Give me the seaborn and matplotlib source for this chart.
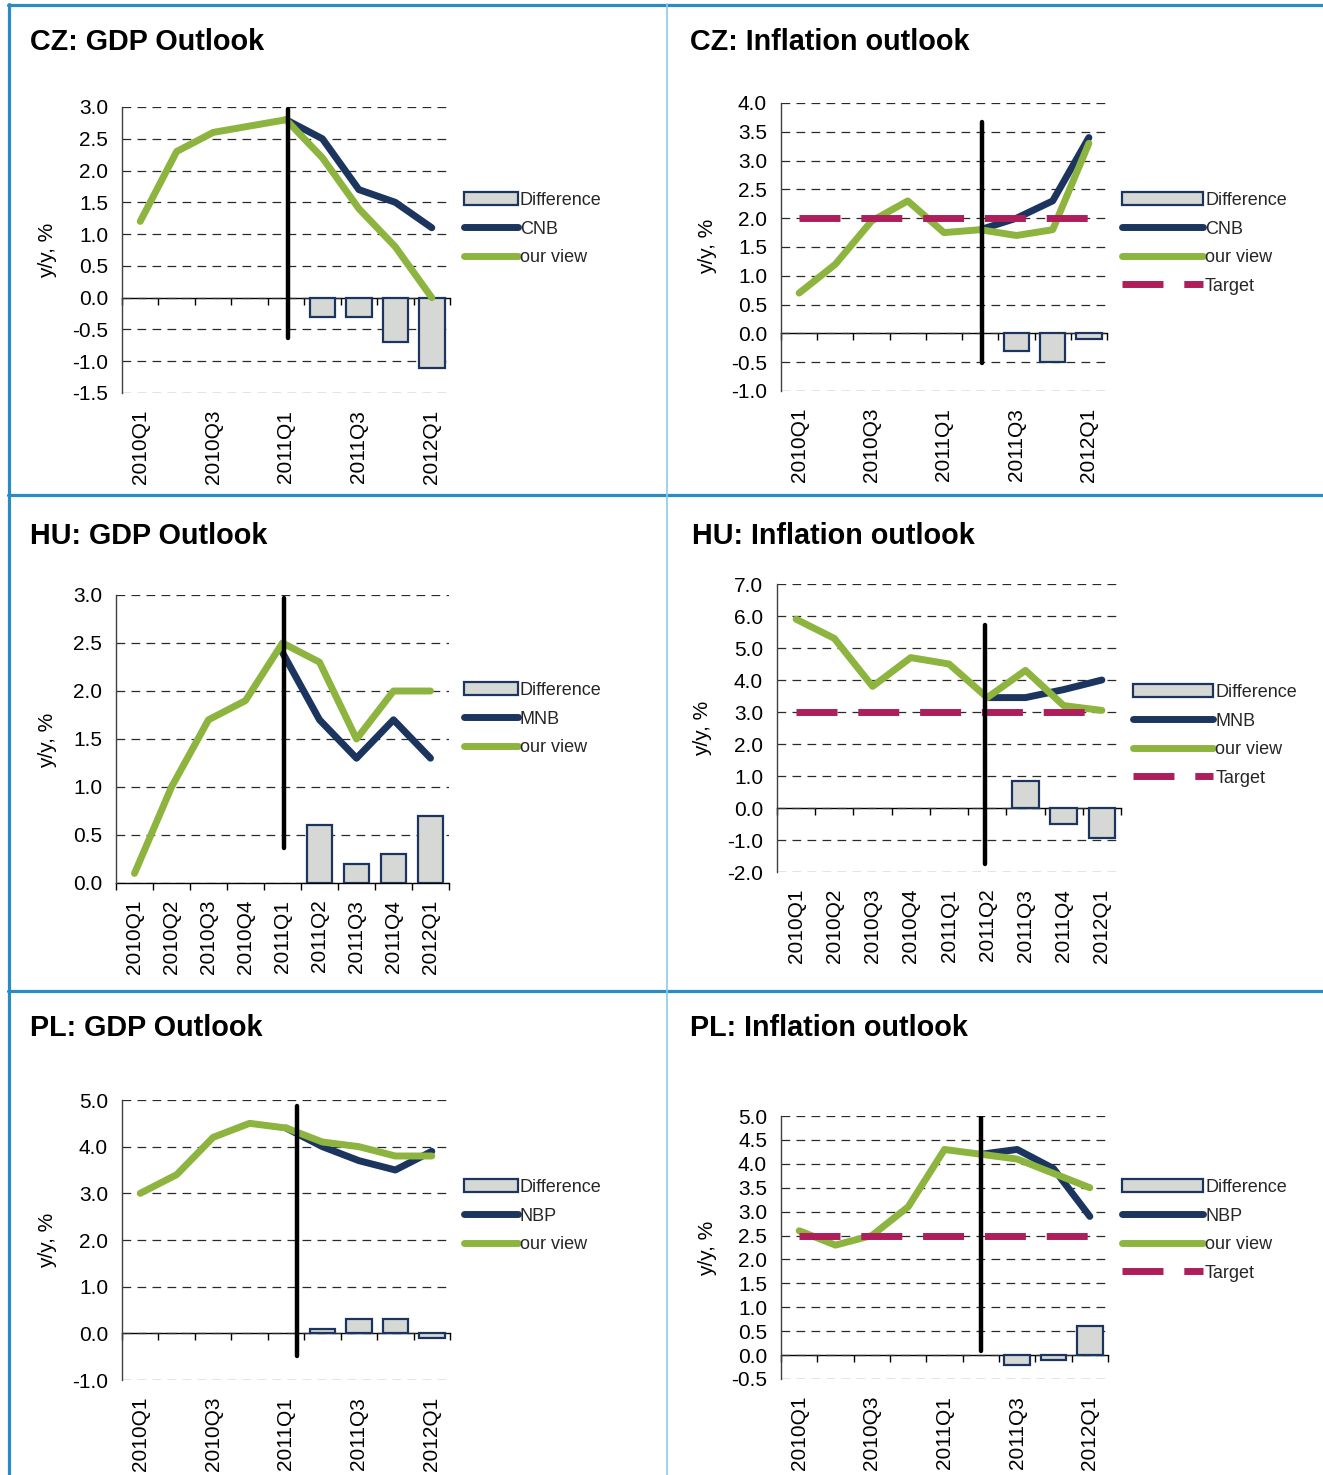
import numpy as np
import matplotlib
matplotlib.use("Agg")
import matplotlib.pyplot as plt
from matplotlib.lines import Line2D
from matplotlib.patches import Patch
from matplotlib.ticker import FormatStrFormatter
import seaborn as sns

# ---------------------------------------------------------------- data
quarters = ["2010Q1", "2010Q2", "2010Q3", "2010Q4", "2011Q1",
            "2011Q2", "2011Q3", "2011Q4", "2012Q1"]

# Czech Republic
cz_gdp_ours = [1.2, 2.3, 2.6, 2.7, 2.8, 2.2, 1.4, 0.8, 0.0]
cz_gdp_cnb = [2.8, 2.5, 1.7, 1.5, 1.1]            # 2011Q1 onwards
cz_gdp_diff = [-0.3, -0.3, -0.7, -1.1]            # 2011Q2 onwards

cz_cpi_ours = [0.7, 1.2, 1.95, 2.3, 1.75, 1.8, 1.7, 1.8, 3.3]
cz_cpi_cnb = [1.8, 2.0, 2.3, 3.4]                 # 2011Q2 onwards
cz_cpi_diff = [-0.3, -0.5, -0.1]                  # 2011Q3 onwards
cz_cpi_target = 2.0

# Hungary
hu_gdp_ours = [0.1, 1.0, 1.7, 1.9, 2.5, 2.3, 1.5, 2.0, 2.0]
hu_gdp_mnb = [2.4, 1.7, 1.3, 1.7, 1.3]
hu_gdp_diff = [0.6, 0.2, 0.3, 0.7]

hu_cpi_ours = [5.9, 5.3, 3.8, 4.7, 4.5, 3.45, 4.3, 3.2, 3.05]
hu_cpi_mnb = [3.45, 3.45, 3.7, 4.0]
hu_cpi_diff = [0.85, -0.5, -0.95]
hu_cpi_target = 3.0

# Poland
pl_gdp_ours = [3.0, 3.4, 4.2, 4.5, 4.4, 4.1, 4.0, 3.8, 3.8]
pl_gdp_nbp = [4.4, 4.0, 3.7, 3.5, 3.9]
pl_gdp_diff = [0.1, 0.3, 0.3, -0.1]

pl_cpi_ours = [2.6, 2.3, 2.5, 3.1, 4.3, 4.2, 4.1, 3.8, 3.5]
pl_cpi_nbp = [4.2, 4.3, 3.9, 2.9]
pl_cpi_diff = [-0.2, -0.1, 0.6]
pl_cpi_target = 2.5

# ---------------------------------------------------------------- style
sns.set_theme(style="white")
plt.rcParams["font.family"] = ["Liberation Sans", "DejaVu Sans"]
plt.rcParams["axes.unicode_minus"] = False

NAVY = "#1C355E"
GREEN = "#8DB43E"
TARGET = "#AE1E5A"
BAR_FILL = "#D6D8D5"
AXIS_GREY = "#404040"
BORDER = "#2B8CC4"
DIVIDER = "#8DC9EC"
LW = 5.0
TARGET_DASH = (0, (5.9, 3.0))

W, H = 1323, 1475
fig = plt.figure(figsize=(W / 100, H / 100), dpi=100)


def fx(x):
    return x / W


def fy(y):
    return 1 - y / H


def draw_panel(rect, ours, bank, bank_name, diff, target, ylim, ystep,
               label_step, split, legend_xy, handle_len, title, title_xy,
               ylabel_xy):
    left, top, right, bottom = rect
    ax = fig.add_axes([fx(left), fy(bottom), (right - left) / W, (bottom - top) / H])
    n = len(quarters)
    pos = np.arange(n)
    b0 = n - len(bank)
    d0 = n - len(diff)

    sns.barplot(x=pos[d0:], y=diff, native_scale=True, orient="x", width=0.7,
                color=BAR_FILL, edgecolor=NAVY, linewidth=1.6, saturation=1,
                errorbar=None, ax=ax, zorder=2)
    sns.lineplot(x=pos[b0:], y=bank, color=NAVY, lw=LW,
                 solid_capstyle="round", ax=ax, zorder=3)
    sns.lineplot(x=pos, y=ours, color=GREEN, lw=LW,
                 solid_capstyle="round", ax=ax, zorder=4)
    if target is not None:
        sns.lineplot(x=pos, y=[target] * n, color=TARGET, lw=LW,
                     linestyle=TARGET_DASH, ax=ax, zorder=5)
    sx, sy0, sy1 = split
    ax.plot([sx, sx], [sy0, sy1], color="black", lw=3.2,
            solid_capstyle="round", zorder=6)

    ymin, ymax = ylim
    ax.set_xlim(-0.5, n - 0.5)
    ax.set_ylim(ymin, ymax)
    ax.set_yticks(np.arange(ymin, ymax + ystep / 2, ystep))
    ax.yaxis.set_major_formatter(FormatStrFormatter("%.1f"))
    ticks = pos[::label_step]
    ax.set_xticks(ticks)
    ax.set_xticklabels([quarters[i] for i in ticks], rotation=90)
    ax.tick_params(axis="x", length=0, pad=12, labelsize=15, colors="black")
    ax.tick_params(axis="y", length=6, width=1, direction="out",
                   labelsize=15, pad=4, color=AXIS_GREY, labelcolor="black")
    ax.set_xlabel("")
    ax.set_ylabel("")
    for s in ("top", "right", "bottom"):
        ax.spines[s].set_visible(False)
    ax.spines["left"].set_color(AXIS_GREY)
    ax.spines["left"].set_linewidth(1)
    ax.grid(axis="y", linestyle=(0, (7, 5)), color="#2a2a2a", lw=0.9)
    ax.grid(axis="x", visible=False)
    ax.set_axisbelow(True)

    # category axis crossing at zero, with ticks between quarters
    zero_frac = (0 - ymin) / (ymax - ymin)
    sec = ax.secondary_xaxis(zero_frac)
    sec.set_xticks(np.arange(-0.5, n, 1.0))
    sec.tick_params(axis="x", length=5, width=1, direction="out",
                    labelbottom=False, color="black")
    sec.spines["bottom"].set_color("black")
    sec.spines["bottom"].set_linewidth(1)

    handles = [Patch(facecolor=BAR_FILL, edgecolor=NAVY, linewidth=1.6),
               Line2D([], [], color=NAVY, lw=LW, solid_capstyle="round"),
               Line2D([], [], color=GREEN, lw=LW, solid_capstyle="round")]
    labels = ["Difference", bank_name, "our view"]
    if target is not None:
        handles.append(Line2D([], [], color=TARGET, lw=LW, linestyle=TARGET_DASH))
        labels.append("Target")
    ax.legend(handles, labels, loc="upper left",
              bbox_to_anchor=(fx(legend_xy[0]), fy(legend_xy[1])),
              bbox_transform=fig.transFigure, frameon=False, fontsize=13,
              handlelength=handle_len, handleheight=0.7, handletextpad=0.1,
              labelspacing=0.64, borderpad=0, borderaxespad=0)

    fig.text(fx(title_xy[0]), fy(title_xy[1]), title, fontsize=20.7,
             fontweight="bold", ha="left", va="baseline", color="black")
    fig.text(fx(ylabel_xy[0]), fy(ylabel_xy[1]), "y/y, %", fontsize=15,
             rotation=90, ha="center", va="center", color="black")


draw_panel((122, 107, 450, 393), cz_gdp_ours, cz_gdp_cnb, "CNB", cz_gdp_diff,
           None, (-1.5, 3.0), 0.5, 2, (4.05, -0.64, 2.97), (464, 192), 3.0,
           "CZ: GDP Outlook", (30, 50), (48, 250))
draw_panel((781, 103, 1107, 391), cz_cpi_ours, cz_cpi_cnb, "CNB", cz_cpi_diff,
           cz_cpi_target, (-1.0, 4.0), 0.5, 2, (5.05, -0.51, 3.67), (1122, 192),
           4.5, "CZ: Inflation outlook", (690, 50), (708, 246))
draw_panel((116, 595, 449, 883), hu_gdp_ours, hu_gdp_mnb, "MNB", hu_gdp_diff,
           None, (0.0, 3.0), 0.5, 1, (4.04, 0.36, 2.97), (464, 682), 3.0,
           "HU: GDP Outlook", (30, 544), (48, 740))
draw_panel((777, 584, 1121, 872), hu_cpi_ours, hu_cpi_mnb, "MNB", hu_cpi_diff,
           hu_cpi_target, (-2.0, 7.0), 1.0, 1, (4.94, -1.75, 5.72), (1133, 684),
           4.45, "HU: Inflation outlook", (692, 544), (703, 728))
draw_panel((122, 1100, 450, 1380), pl_gdp_ours, pl_gdp_nbp, "NBP", pl_gdp_diff,
           None, (-1.0, 5.0), 1.0, 2, (4.3, -0.48, 4.87), (464, 1179), 3.0,
           "PL: GDP Outlook", (30, 1036), (48, 1240))
draw_panel((781, 1116, 1108, 1379), pl_cpi_ours, pl_cpi_nbp, "NBP", pl_cpi_diff,
           pl_cpi_target, (-0.5, 5.0), 0.5, 2, (5.0, 0.08, 4.98), (1122, 1179),
           4.5, "PL: Inflation outlook", (690, 1036), (708, 1248))

# panel frame
for x0, y0, x1, y1, col, lw in [
    (8.5, 4, 8.5, H, BORDER, 2.3),
    (8, 4.5, W, 4.5, BORDER, 2.3),
    (8, 495.5, W, 495.5, BORDER, 2.3),
    (8, 990.5, W, 990.5, BORDER, 2.3),
    (667, 4, 667, H, DIVIDER, 1.2),
]:
    fig.add_artist(Line2D([fx(x0), fx(x1)], [fy(y0), fy(y1)], color=col,
                          lw=lw, transform=fig.transFigure, zorder=10))

fig.savefig("out.png", dpi=100)
